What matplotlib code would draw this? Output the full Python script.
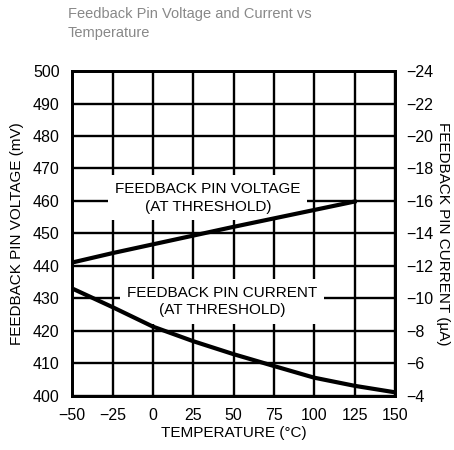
import numpy as np
import matplotlib
matplotlib.use('Agg')
import matplotlib.pyplot as plt

plt.rcParams['font.family'] = ['Liberation Sans Narrow', 'Liberation Sans', 'DejaVu Sans']

temp_v = [-50, -25, 0, 25, 50, 75, 100, 125]
volt = [441.0, 443.9, 446.6, 449.3, 452.0, 454.6, 457.2, 459.8]   # mV

temp_i = [-50, -25, 0, 25, 50, 75, 100, 125, 150]
curr = [-10.6, -9.45, -8.25, -7.35, -6.55, -5.82, -5.1, -4.6, -4.2]   # uA

xticks = np.arange(-50, 151, 25)
yticks_v = np.arange(400, 501, 10)
yticks_i = np.arange(-24, -3, 2)

fig = plt.figure(figsize=(4.54, 4.50), dpi=100)
ax = fig.add_axes([0.159, 0.121, 0.711, 0.721])
ax2 = ax.twinx()

ax.set_xlim(-50, 150)
ax.set_ylim(400, 500)
ax2.set_ylim(-4, -24)
ax.set_xticks(xticks)
ax.set_yticks(yticks_v)
ax2.set_yticks(yticks_i)

ax.grid(True, color='black', linewidth=1.7)
ax.set_axisbelow(True)
ax.tick_params(length=0, labelsize=11.5, pad=9)
ax2.tick_params(length=0, labelsize=11.5, pad=8)
for a in (ax, ax2):
    for s in a.spines.values():
        s.set_linewidth(2)

ax.plot(temp_v, volt, color='black', linewidth=3, zorder=4)
ax2.plot(temp_i, curr, color='black', linewidth=3, zorder=4)

box = dict(facecolor='white', edgecolor='none', pad=5)
ax.text(34, 461, 'FEEDBACK PIN VOLTAGE\n(AT THRESHOLD)', ha='center', va='center',
        fontsize=11, linespacing=1.35, bbox=box, zorder=3)
ax2.text(43, -9.8, 'FEEDBACK PIN CURRENT\n(AT THRESHOLD)', ha='center', va='center',
         fontsize=11, linespacing=1.3, bbox=box, zorder=3)

ax.set_xlabel('TEMPERATURE (°C)', fontsize=11, labelpad=2)
ax.set_ylabel('FEEDBACK PIN VOLTAGE (mV)', fontsize=11, labelpad=6)
ax2.set_ylabel('FEEDBACK PIN CURRENT (µA)', fontsize=11, rotation=-90, labelpad=12)

fig.text(0.15, 0.985, 'Feedback Pin Voltage and Current vs\nTemperature', ha='left', va='top',
         fontsize=10.5, color='#888888', linespacing=1.5)

fig.savefig('out.png', dpi=100)
